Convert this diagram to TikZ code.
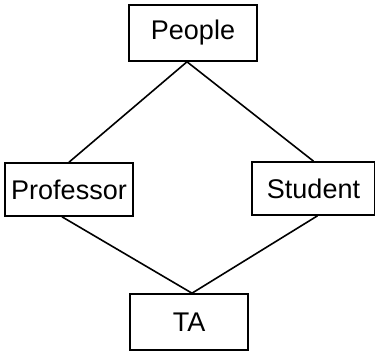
\documentclass[tikz,border=0pt]{standalone}
\usepackage{fontspec}
\setmainfont{Liberation Sans}
\begin{document}
\begin{tikzpicture}[x=1pt,y=-1pt,
  entity/.style={draw=black,line width=1.6pt,rectangle,inner sep=0pt,
    font=\fontsize{27}{32}\selectfont},
  link/.style={draw=black,line width=1.6pt}]
\useasboundingbox (0,0) rectangle (375,352);
\node[entity,minimum width=128pt,minimum height=56pt] (people) at (193,33) {People};
\node[entity,minimum width=128pt,minimum height=53pt] (prof) at (69,189.5) {Professor};
\node[entity,minimum width=123pt,minimum height=53pt] (stud) at (313.5,188.5) {Student};
\node[entity,minimum width=118pt,minimum height=56pt] (ta) at (189,322) {TA};
\draw[link] (prof.north) -- ([xshift=-6pt]people.south) -- (stud.north);
\draw[link] ([xshift=-7pt]prof.south) -- ([xshift=3pt]ta.north) -- ([xshift=4pt]stud.south);
\end{tikzpicture}
\end{document}
